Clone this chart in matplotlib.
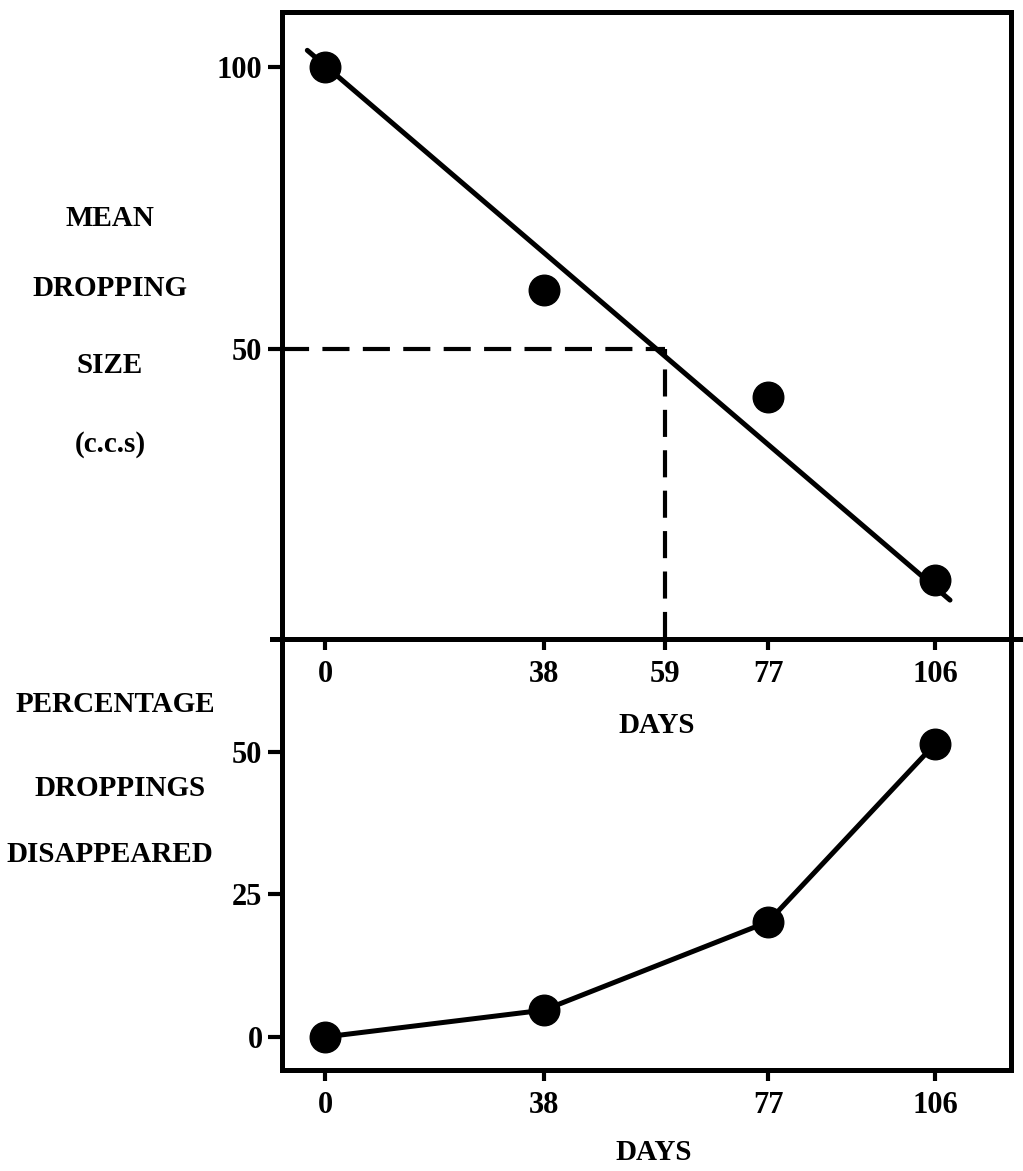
import matplotlib
matplotlib.use("Agg")
import matplotlib.pyplot as plt

# data
size_days = [0, 38, 77, 106]
mean_size = [100, 60.5, 41.5, 9]
fit_days = [-3.1, 108.6]          # ends of the drawn straight line
fit_size = [103.0, 5.5]
half_day = 59
half_size = 50

gone_days = [0, 38, 77, 106]
pct_gone = [0, 4.7, 20.2, 51.4]

top_xticks = [0, 38, 59, 77, 106]
top_yticks = [50, 100]
bot_xticks = [0, 38, 77, 106]
bot_yticks = [0, 25, 50]

plt.rcParams['font.family'] = ['Liberation Serif', 'DejaVu Serif']
plt.rcParams['font.weight'] = 'bold'
plt.rcParams['axes.labelweight'] = 'bold'
plt.rcParams['font.size'] = 20

W, H = 1023, 1171
fig = plt.figure(figsize=(W / 100, H / 100), dpi=100)

left = 282 / W
width = (1011 - 282) / W
y_div = 1 - 639 / H
ax1 = fig.add_axes([left, y_div, width, (639 - 12) / H])
ax2 = fig.add_axes([left, 1 - 1070 / H, width, (1070 - 639) / H])
ax2.patch.set_visible(False)

xlim = (-7.5, 119.2)
lw = 3.6

# top panel
ax1.plot(fit_days, fit_size, color='black', lw=lw, solid_capstyle='round', zorder=2)
ax1.plot(size_days, mean_size, 'o', color='black', markersize=22, zorder=3)
ax1.plot([xlim[0], half_day], [half_size, half_size], color='black', lw=3,
         dashes=(6.5, 3.2), zorder=1)
ax1.plot([half_day, half_day], [-1.4, half_size], color='black', lw=3,
         dashes=(6.5, 3.2), zorder=1)
ax1.set_xlim(*xlim)
ax1.set_ylim(-1.4, 109.8)
ax1.set_xticks(top_xticks)
ax1.set_xticklabels([str(t) for t in top_xticks])
ax1.set_yticks(top_yticks)
ax1.set_xlabel('DAYS', fontsize=21)
ax1.xaxis.set_label_coords(0.514, -0.116)
# divider line runs a little past the box on both sides
ax1.plot([-0.014, 1.012], [0, 0], transform=ax1.transAxes, color='black',
         lw=lw, clip_on=False, zorder=5)

# bottom panel
ax2.plot(gone_days, pct_gone, '-o', color='black', lw=lw, markersize=22)
ax2.set_xlim(*xlim)
ax2.set_ylim(-5.8, 69.8)
ax2.set_xticks(bot_xticks)
ax2.set_xticklabels([str(t) for t in bot_xticks])
ax2.set_yticks(bot_yticks)
ax2.set_xlabel('DAYS', fontsize=21)
ax2.xaxis.set_label_coords(0.51, -0.16)
ax2.spines['top'].set_visible(False)

for ax in (ax1, ax2):
    for s in ax.spines.values():
        s.set_linewidth(lw)
    ax.tick_params(axis='y', direction='out', length=10, width=3, pad=4,
                   labelsize=22)
    ax.tick_params(axis='x', direction='out', length=8, width=3, pad=7,
                   labelsize=22)

# stacked y-axis captions
def caption(text, x, y):
    fig.text(x / W, 1 - y / H, text, ha='center', va='center', fontsize=21)

caption('MEAN', 110, 218)
caption('DROPPING', 110, 288)
caption('SIZE', 110, 366)
caption('(c.c.s)', 110, 444)
caption('PERCENTAGE', 115, 705)
caption('DROPPINGS', 120, 788)
caption('DISAPPEARED', 110, 855)

fig.savefig('out.png', dpi=100)
